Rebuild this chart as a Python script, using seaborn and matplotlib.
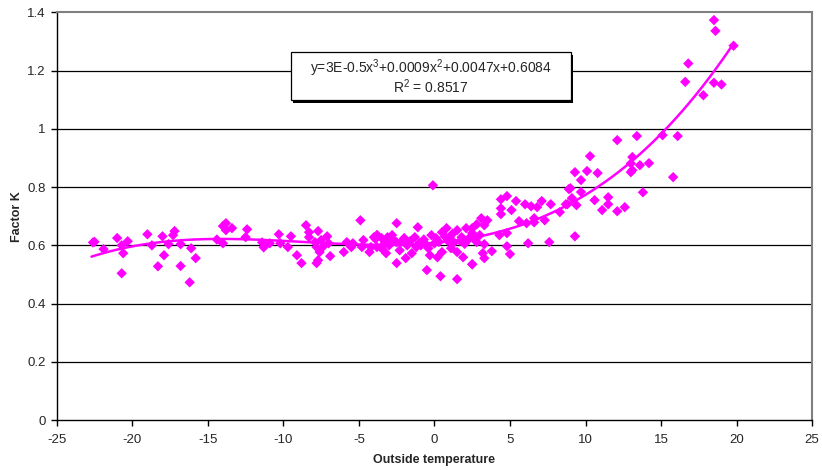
import numpy as np
import pandas as pd
import matplotlib
matplotlib.use("Agg")
import matplotlib.pyplot as plt
from matplotlib.patches import Rectangle
import seaborn as sns

# ---- data ----
temp = [
    -22.6, -22.5, -21.9, -21.0, -20.7, -20.6, -20.3, -20.7, -19.0, -18.7, -18.3, -18.0,
    -17.9, -17.3, -17.2, -17.6, -16.8, -16.8, -16.1, -15.8, -16.2, -14.4, -14.0, -14.0,
    -13.8, -13.8, -13.4, -12.4, -12.5, -11.4, -11.3, -10.9, -10.3, -10.2, -9.5, -9.7,
    -9.1, -8.8, -8.5, -8.3, -8.3, -7.7, -7.9, -7.8, -7.5, -7.4, -7.6, -7.7, -7.8, -7.1,
    -7.0, -6.9, -6.0, -5.8, -5.5, -5.4, -4.9, -4.7, -4.8, -4.3, -4.0, -3.8, -4.2,
    -0.1, -2.5, -1.1, -3.8, -3.5, -3.1, -2.8, -3.3, -3.0, -3.2, -3.5, -2.5, -2.3, -2.0,
    -1.9, -1.8, -1.5, -1.3, -1.2, -0.9, -0.5, -0.2, -0.3, 0.1, 0.2, 0.0, 0.5, 0.5, 0.8,
    1.0, 1.1, 1.5, 1.5, 1.8, 1.9, 2.1, 2.2, 2.5, -2.5, -0.5, 0.4, 1.5, 2.5, -3.8,
    4.4, 4.8, 5.4, 6.0, 6.4, 6.8, 7.1, 7.7, 4.4, 4.4, 5.1, 8.9, 8.7, 8.3, 5.6, 6.6, 6.6,
    7.3, 3.1, 3.5, 2.8, 3.3, 2.5, 2.5, 3.0, 4.3, 4.8, 6.1, 2.8, 3.3, 4.8, 6.2, 7.6, 3.2,
    3.3, 3.8, 5.0, 2.5,
    12.1, 13.4, 15.1, 16.1, 10.3, 9.3, 10.1, 10.8, 9.7, 13.1, 13.0, 13.6, 14.2, 13.0,
    13.1, 15.8, 9.0, 9.7, 9.1, 8.8, 9.4, 10.6, 11.5, 11.5, 11.1, 12.1, 12.6, 13.8, 9.3,
    18.5, 18.6, 19.8, 16.8, 16.6, 18.5, 19.0, 17.8,
    -1.6, -0.7, 0.3, 1.2, 1.7, 2.0, -2.7, -1.0, 0.7, 1.3, -3.9, -2.2, -0.4, 0.9, 2.3,
]
factor_k = [
    0.610, 0.612, 0.587, 0.625, 0.600, 0.573, 0.614, 0.504, 0.638, 0.600, 0.528, 0.631,
    0.566, 0.635, 0.649, 0.604, 0.604, 0.529, 0.590, 0.556, 0.473, 0.620, 0.607, 0.666,
    0.676, 0.652, 0.659, 0.655, 0.628, 0.610, 0.593, 0.607, 0.638, 0.607, 0.631, 0.594,
    0.566, 0.539, 0.669, 0.645, 0.628, 0.649, 0.611, 0.594, 0.618, 0.594, 0.577, 0.549,
    0.539, 0.631, 0.607, 0.563, 0.577, 0.611, 0.594, 0.607, 0.686, 0.618, 0.594, 0.577,
    0.628, 0.635, 0.594,
    0.806, 0.676, 0.662, 0.635, 0.625, 0.628, 0.635, 0.607, 0.600, 0.573, 0.590, 0.611,
    0.583, 0.625, 0.556, 0.600, 0.573, 0.628, 0.594, 0.600, 0.600, 0.635, 0.566, 0.625,
    0.559, 0.607, 0.645, 0.577, 0.659, 0.628, 0.590, 0.652, 0.577, 0.628, 0.559, 0.659,
    0.618, 0.642, 0.539, 0.515, 0.494, 0.484, 0.535, 0.594,
    0.758, 0.769, 0.752, 0.741, 0.734, 0.731, 0.752, 0.741, 0.727, 0.707, 0.721, 0.793,
    0.741, 0.714, 0.683, 0.693, 0.679, 0.686, 0.693, 0.686, 0.672, 0.669, 0.659, 0.628,
    0.635, 0.635, 0.642, 0.676, 0.611, 0.604, 0.597, 0.607, 0.611, 0.573, 0.556, 0.580,
    0.570, 0.535,
    0.961, 0.975, 0.978, 0.975, 0.906, 0.851, 0.855, 0.848, 0.824, 0.903, 0.881, 0.875,
    0.882, 0.851, 0.858, 0.834, 0.796, 0.783, 0.762, 0.741, 0.738, 0.755, 0.765, 0.741,
    0.721, 0.717, 0.731, 0.782, 0.631,
    1.373, 1.336, 1.285, 1.224, 1.161, 1.158, 1.152, 1.115,
    0.615, 0.620, 0.612, 0.640, 0.615, 0.605, 0.618, 0.608, 0.630, 0.610, 0.622, 0.612,
    0.590, 0.615, 0.625,
]

# cubic trend line coefficients (highest power first), as drawn in the reference
trend_coeffs = [3.3e-5, 0.00086, 0.0046, 0.6084]
trend_range = [-22.7, 19.8]

equation_text = "y=3E-0.5x$^3$+0.0009x$^2$+0.0047x+0.6084"
r2_text = "R$^2$ = 0.8517"

x_ticks = [-25, -20, -15, -10, -5, 0, 5, 10, 15, 20, 25]
y_ticks = [0, 0.2, 0.4, 0.6, 0.8, 1.0, 1.2, 1.4]
y_tick_labels = ["0", "0.2", "0.4", "0.6", "0.8", "1", "1.2", "1.4"]

# ---- plotting ----
sns.set_style("white")
plt.rcParams["font.family"] = ["Liberation Sans", "DejaVu Sans"]
plt.rcParams["mathtext.fontset"] = "custom"
plt.rcParams["mathtext.rm"] = "Liberation Sans"

fig = plt.figure(figsize=(8.22, 4.70), dpi=100)
ax = fig.add_axes([0.069, 0.106, 0.919, 0.868])

df = pd.DataFrame({"temp": temp, "k": factor_k})
sns.scatterplot(data=df, x="temp", y="k", marker="D", color="#FF00FF",
                s=28, edgecolor="none", linewidth=0, ax=ax, zorder=3)

tx = np.linspace(trend_range[0], trend_range[1], 300)
ty = np.polyval(trend_coeffs, tx)
sns.lineplot(x=tx, y=ty, color="#FF00FF", linewidth=1.8, ax=ax, zorder=4)

ax.set_xlim(-25, 25)
ax.set_ylim(0, 1.4)
ax.set_xticks(x_ticks)
ax.set_xticklabels([str(t) for t in x_ticks])
ax.set_yticks(y_ticks)
ax.set_yticklabels(y_tick_labels)

for yv in y_ticks[1:-1]:
    ax.axhline(yv, color="black", linewidth=0.9, zorder=1)

for side in ["top", "right"]:
    ax.spines[side].set_color("#808080")
    ax.spines[side].set_linewidth(1.5)
for side in ["left", "bottom"]:
    ax.spines[side].set_color("black")
    ax.spines[side].set_linewidth(1.0)

ax.tick_params(axis="both", direction="out", length=4, width=1, color="black",
               labelsize=9.5, bottom=True, left=True)
ax.tick_params(axis="x", pad=6)
ax.tick_params(axis="y", pad=4)

ax.set_xlabel("Outside temperature", fontsize=9, fontweight="bold", labelpad=6)
ax.set_ylabel("Factor K", fontsize=9, fontweight="bold", labelpad=3)

# equation box with shadow
bx0, by0, bw, bh = 0.310, 0.784, 0.371, 0.118
shadow = Rectangle((bx0 + 0.003, by0 - 0.006), bw, bh, transform=ax.transAxes,
                   facecolor="black", edgecolor="none", zorder=5)
box = Rectangle((bx0, by0), bw, bh, transform=ax.transAxes,
                facecolor="white", edgecolor="black", linewidth=0.9, zorder=6)
ax.add_patch(shadow)
ax.add_patch(box)
ax.text(0.495, 0.864, equation_text, transform=ax.transAxes, ha="center",
        va="center", fontsize=10, zorder=7)
ax.text(0.495, 0.817, r2_text, transform=ax.transAxes, ha="center",
        va="center", fontsize=10, zorder=7)

fig.savefig("out.png", dpi=100)
